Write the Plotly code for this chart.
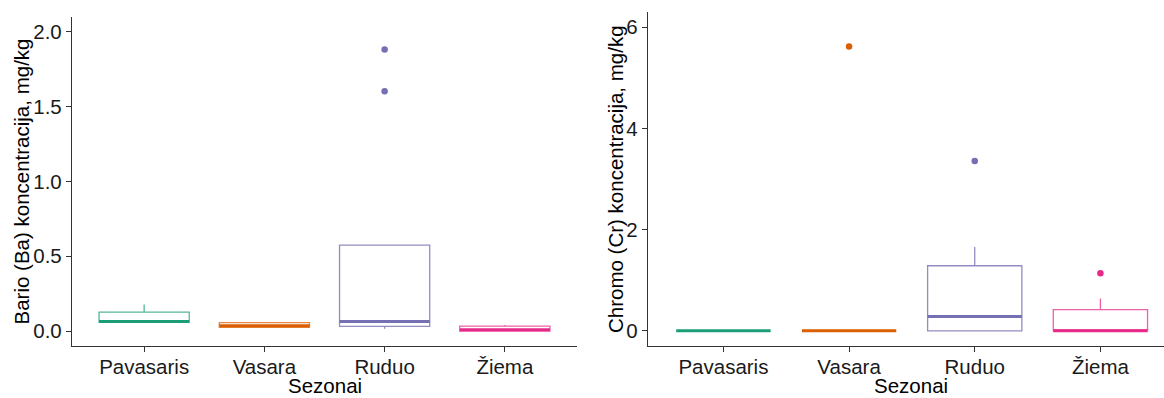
import plotly.graph_objects as go

# ---------------- data ----------------
seasons = ["Pavasaris", "Vasara", "Ruduo", "Žiema"]
colors = ["#1B9E77", "#D95F02", "#7570B3", "#E7298A"]
box_colors = ["rgba(27,158,119,0.75)", "rgba(217,95,2,0.75)",
              "rgba(117,112,179,0.8)", "rgba(231,41,138,0.75)"]

# Barium (Ba), mg/kg
ba_q1 = [0.060, 0.025, 0.031, 0.000]
ba_median = [0.064, 0.035, 0.063, 0.008]
ba_q3 = [0.127, 0.056, 0.575, 0.033]
ba_lower = [0.058, 0.025, 0.016, 0.000]
ba_upper = [0.178, 0.056, 0.575, 0.040]
ba_outliers = [[], [], [1.882, 1.603], []]

# Chromium (Cr), mg/kg
cr_q1 = [0.0, 0.0, 0.0, 0.0]
cr_median = [0.0, 0.0, 0.283, 0.0]
cr_q3 = [0.0, 0.0, 1.286, 0.42]
cr_lower = [0.0, 0.0, 0.0, 0.0]
cr_upper = [0.0, 0.0, 1.656, 0.64]
cr_outliers = [[], [5.62], [3.357], [1.14]]

ba_ticks = [0.0, 0.5, 1.0, 1.5, 2.0]
cr_ticks = [0, 2, 4, 6]

x_title = "Sezonai"
ba_title = "Bario (Ba) koncentracija, mg/kg"
cr_title = "Chromo (Cr) koncentracija, mg/kg"

# ---------------- figure ----------------
W, H = 1164, 398
BOX_W = 0.75
FONT = "Liberation Sans, Arial, sans-serif"
FS = 20.5
AX = "#333333"

fig = go.Figure()


def add_panel(xa, ya, q1, med, q3, lo, up, outs):
    for i, s in enumerate(seasons):
        pos = i + 1
        fig.add_trace(go.Box(
            x=[pos], q1=[q1[i]], median=[med[i]], q3=[q3[i]],
            lowerfence=[lo[i]], upperfence=[up[i]],
            width=BOX_W, whiskerwidth=0, boxpoints=False,
            fillcolor="white", line=dict(color=box_colors[i], width=1.3),
            xaxis=xa, yaxis=ya, showlegend=False, name=s, hoverinfo="skip"))
        fig.add_trace(go.Scatter(
            x=[pos - BOX_W / 2, pos + BOX_W / 2], y=[med[i], med[i]],
            mode="lines", line=dict(color=colors[i], width=3),
            xaxis=xa, yaxis=ya, showlegend=False, hoverinfo="skip"))
        if outs[i]:
            fig.add_trace(go.Scatter(
                x=[pos] * len(outs[i]), y=outs[i], mode="markers",
                marker=dict(color=colors[i], size=6.5),
                xaxis=xa, yaxis=ya, showlegend=False, hoverinfo="skip"))


add_panel("x", "y", ba_q1, ba_median, ba_q3, ba_lower, ba_upper, ba_outliers)
add_panel("x2", "y2", cr_q1, cr_median, cr_q3, cr_lower, cr_upper, cr_outliers)

axis_common = dict(
    showline=True, linecolor=AX, linewidth=1.3, mirror=False,
    ticks="outside", ticklen=5, tickwidth=1.2, tickcolor=AX,
    showgrid=False, zeroline=False,
    tickfont=dict(family=FONT, size=FS, color="#1a1a1a"),
)

L0, L1 = 72, 577
R0 = 648
B, T1, T2 = 346, 17, 12

fig.update_layout(
    width=W, height=H,
    margin=dict(l=0, r=0, t=0, b=0),
    paper_bgcolor="white", plot_bgcolor="white",
    showlegend=False,
    font=dict(family=FONT, size=FS, color="black"),
    xaxis=dict(domain=[L0 / W, L1 / W], range=[0.4, 4.6], ticklabelstandoff=-3,
               tickvals=[1, 2, 3, 4], ticktext=seasons, anchor="y", **axis_common),
    yaxis=dict(domain=[1 - B / H, 1 - T1 / H], range=[-0.1, 2.1],
               tickvals=ba_ticks, tickformat=".1f", anchor="x", **axis_common),
    xaxis2=dict(domain=[R0 / W, 1.0], range=[0.4, 4.506], ticklabelstandoff=-3,
                tickvals=[1, 2, 3, 4], ticktext=seasons, anchor="y2", **axis_common),
    yaxis2=dict(domain=[1 - B / H, 1 - T2 / H], range=[-0.3, 6.3],
                tickvals=cr_ticks, anchor="x2", **axis_common),
)

ann = dict(xref="paper", yref="paper", showarrow=False,
           font=dict(family=FONT, size=FS, color="black"))
fig.add_annotation(text=x_title, x=(L0 + L1) / 2 / W, y=0, borderpad=0,
                   xanchor="center", yanchor="bottom", **ann)
fig.add_annotation(text=x_title, x=911 / W, y=0, borderpad=0,
                   xanchor="center", yanchor="bottom", **ann)
fig.add_annotation(text=ba_title, x=21 / W, y=1 - 181.5 / H, textangle=-90,
                   xanchor="center", yanchor="middle", **ann)
fig.add_annotation(text=cr_title, x=615 / W, y=1 - 179 / H, textangle=-90,
                   xanchor="center", yanchor="middle", **ann)

fig.write_html("out.html")
